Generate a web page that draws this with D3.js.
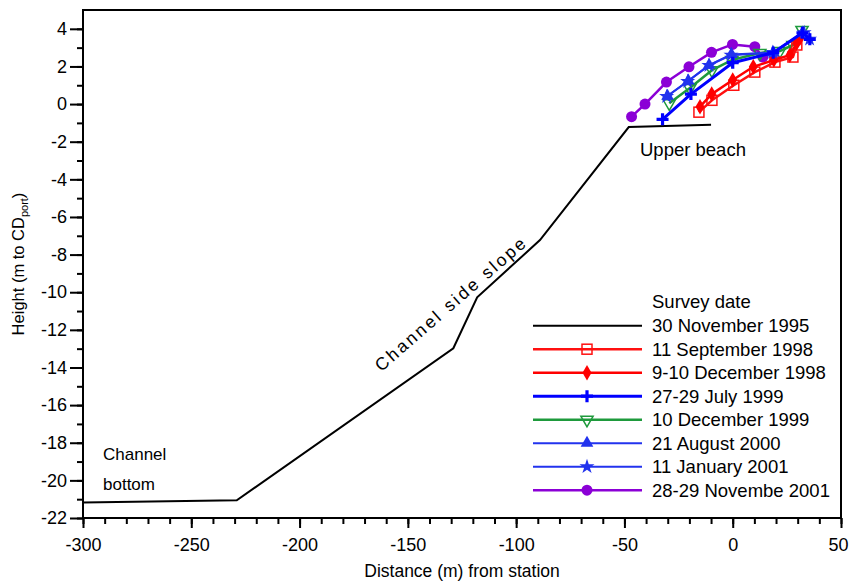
<!DOCTYPE html>
<html><head><meta charset="utf-8">
<script src="https://cdn.jsdelivr.net/npm/d3@7"></script>
<style>
body{margin:0;background:#fff;}
svg{display:block;font-family:"Liberation Sans",Arial,Helvetica,sans-serif;}
</style></head>
<body><svg id="c" width="850" height="588"></svg>
<script>
// ---- data ----
const xTicks = [-300,-250,-200,-150,-100,-50,0,50];
const yTicks = [-22,-20,-18,-16,-14,-12,-10,-8,-6,-4,-2,0,2,4];
const legendTitle = "Survey date";
const seriesNames = ["30 November 1995","11 September 1998","9-10 December 1998","27-29 July 1999","10 December 1999","21 August 2000","11 January 2001","28-29 Novembe 2001"];

const x1995 = [-300,-229,-129,-118,-89,-48,-10];
const y1995 = [-21.17,-21.06,-12.98,-10.27,-7.23,-1.22,-1.1];

const xSep1998 = [-15.6,-9.6,0.5,10.2,19.5,27.8,29.6];
const ySep1998 = [-0.43,0.2,1.0,1.7,2.23,2.5,3.14];

const xDec1998 = [-15.1,-9.7,0,9.5,19,26.4,29.5,31];
const yDec1998 = [-0.14,0.53,1.28,1.98,2.34,2.6,3.23,3.5];

const xJul1999 = [-32.4,-19.3,0,18.7,32.2,35.6];
const yJul1999 = [-0.81,0.53,2.2,2.73,3.79,3.44];

const xDec1999 = [-29.3,-19.8,-9.6,-0.4,12.5,21.8,27.8,32];
const yDec1999 = [0.04,0.85,1.8,2.34,2.71,2.82,3.14,3.94];

const xAug2000 = [-30.1,-20.5,-10.9,-0.6,18.7,32.2];
const yAug2000 = [0.43,1.24,2.07,2.64,2.73,3.79];

const xJan2001 = [-30.5,-20.8,-11,-0.8,18.5,33,35.5];
const yJan2001 = [0.4,1.2,2.05,2.6,2.75,3.8,3.45];

const xNov2001 = [-46.7,-40.5,-30.6,-20.2,-9.8,-0.1,10.2,13.9];
const yNov2001 = [-0.67,0.0,1.17,1.98,2.75,3.17,3.05,2.5];

// ---- layout ----
const svg = d3.select("#c");
const L = 83, R = 841, T = 10, B = 518;
const x = d3.scaleLinear().domain([-300,50]).range([L,R]);
const y = d3.scaleLinear().domain([-22,5]).range([B,T]);
const FONT = 18;

// frame
svg.append("rect").attr("x",L).attr("y",T).attr("width",R-L).attr("height",B-T)
  .attr("fill","none").attr("stroke","#000").attr("stroke-width",2);

// axes
const gx = svg.append("g").attr("transform",`translate(0,${B})`);
gx.call(d3.axisBottom(x).tickValues(d3.range(-300,51,10)).tickSize(6).tickFormat(""));
gx.select(".domain").remove();
const gx2 = svg.append("g").attr("transform",`translate(0,${B})`);
gx2.call(d3.axisBottom(x).tickValues(xTicks).tickSize(10).tickPadding(10).tickFormat(d3.format("d")));
gx2.select(".domain").remove();
gx2.selectAll("text").attr("font-size",FONT).attr("font-family","Liberation Sans, Arial").text(d=>String(d))
  .attr("dx",d=>d===50?-3:0);

const gy = svg.append("g").attr("transform",`translate(${L},0)`);
gy.call(d3.axisLeft(y).tickValues(d3.range(-22,5,1)).tickSize(6).tickFormat(""));
gy.select(".domain").remove();
const gy2 = svg.append("g").attr("transform",`translate(${L},0)`);
gy2.call(d3.axisLeft(y).tickValues(yTicks).tickSize(13).tickPadding(3));
gy2.select(".domain").remove();
gy2.selectAll("text").attr("font-size",FONT).attr("font-family","Liberation Sans, Arial").text(d=>String(d));
svg.selectAll(".tick line").attr("stroke","#000").attr("stroke-width",2);

// axis titles
svg.append("text").attr("x",462).attr("y",577).attr("text-anchor","middle")
  .attr("font-size",17.5).text("Distance (m) from station");
const yt = svg.append("text").attr("transform",`translate(24,${264}) rotate(-90)`)
  .attr("text-anchor","middle").attr("font-size",16.5);
yt.append("tspan").text("Height (m to CD");
yt.append("tspan").attr("font-size",11).attr("dy",4).text("port");
yt.append("tspan").attr("dy",-4).text(")");

// annotations
svg.append("text").attr("x",640).attr("y",156).attr("font-size",18.5).text("Upper beach");
svg.append("text").attr("x",103).attr("y",460).attr("font-size",17).text("Channel");
svg.append("text").attr("x",103).attr("y",490).attr("font-size",17).text("bottom");
svg.append("text").attr("transform","translate(455,308) rotate(-41)").attr("text-anchor","middle")
  .attr("font-size",17.5).attr("letter-spacing",2.6).text("Channel side slope");

// series definitions
const line = d3.line().x(d=>x(d[0])).y(d=>y(d[1]));
const zip = (a,b)=>a.map((v,i)=>[v,b[i]]);
const series = [
  {name:seriesNames[7], data:zip(xNov2001,yNov2001), color:"#8b00d6", w:2.5, sym:"circle"},
  {name:seriesNames[4], data:zip(xDec1999,yDec1999), color:"#1e9a3c", w:2.5, sym:"itri"},
  {name:seriesNames[1], data:zip(xSep1998,ySep1998), color:"#ff1010", w:2.5, sym:"square"},
  {name:seriesNames[2], data:zip(xDec1998,yDec1998), color:"#ff0000", w:2.5, sym:"diamond"},
  {name:seriesNames[5], data:zip(xAug2000,yAug2000), color:"#2233ee", w:2, sym:"tri"},
  {name:seriesNames[6], data:zip(xJan2001,yJan2001), color:"#2233ee", w:2, sym:"star"},
  {name:seriesNames[3], data:zip(xJul1999,yJul1999), color:"#0000ff", w:3, sym:"plus"},
];

function marker(g, sym, color, cx, cy){
  if(sym==="circle") g.append("circle").attr("cx",cx).attr("cy",cy).attr("r",5.5).attr("fill",color);
  else if(sym==="square") g.append("rect").attr("x",cx-5).attr("y",cy-5).attr("width",10).attr("height",10)
      .attr("fill","none").attr("stroke",color).attr("stroke-width",1.5);
  else if(sym==="diamond") g.append("path").attr("transform",`translate(${cx},${cy})`)
      .attr("d",d3.symbol(d3.symbolDiamond, 70)()).attr("fill",color);
  else if(sym==="tri") g.append("path").attr("transform",`translate(${cx},${cy})`)
      .attr("d",d3.symbol(d3.symbolTriangle, 70)()).attr("fill",color);
  else if(sym==="itri") g.append("path").attr("transform",`translate(${cx},${cy}) rotate(180)`)
      .attr("d",d3.symbol(d3.symbolTriangle, 65)()).attr("fill","none").attr("stroke",color).attr("stroke-width",1.5);
  else if(sym==="star") g.append("path").attr("transform",`translate(${cx},${cy})`)
      .attr("d",d3.symbol(d3.symbolStar, 70)()).attr("fill",color);
  else if(sym==="plus") g.append("path").attr("transform",`translate(${cx},${cy})`)
      .attr("d","M-6,0H6M0,-6V6").attr("stroke",color).attr("stroke-width",3.2);
}

// black profile
svg.append("path").attr("d",line(zip(x1995,y1995))).attr("fill","none").attr("stroke","#000").attr("stroke-width",2);

series.forEach(s=>{
  svg.append("path").attr("d",line(s.data)).attr("fill","none").attr("stroke",s.color)
    .attr("stroke-width",s.w).attr("stroke-linejoin","round");
  const g = svg.append("g");
  s.data.forEach(d=>marker(g,s.sym,s.color,x(d[0]),y(d[1])));
});

// legend
const lg = svg.append("g");
lg.append("text").attr("x",652).attr("y",302).attr("dy","0.35em").attr("font-size",18.5).text(legendTitle);
const legOrder = [
  {name:seriesNames[0], color:"#000", w:2, sym:null},
  {name:seriesNames[1], color:"#ff1010", w:2.5, sym:"square"},
  {name:seriesNames[2], color:"#ff0000", w:2.5, sym:"diamond"},
  {name:seriesNames[3], color:"#0000ff", w:3, sym:"plus"},
  {name:seriesNames[4], color:"#1e9a3c", w:2.5, sym:"itri"},
  {name:seriesNames[5], color:"#2233ee", w:2, sym:"tri"},
  {name:seriesNames[6], color:"#2233ee", w:2, sym:"star"},
  {name:seriesNames[7], color:"#8b00d6", w:2.5, sym:"circle"},
];
legOrder.forEach((e,i)=>{
  const yy = 325.7 + 23.5*i;
  lg.append("line").attr("x1",533).attr("x2",642).attr("y1",yy).attr("y2",yy)
    .attr("stroke",e.color).attr("stroke-width",e.w);
  if(e.sym) marker(lg,e.sym,e.color,587,yy);
  lg.append("text").attr("x",652).attr("y",yy).attr("dy","0.35em").attr("font-size",18.5).text(e.name);
});
</script></body></html>
